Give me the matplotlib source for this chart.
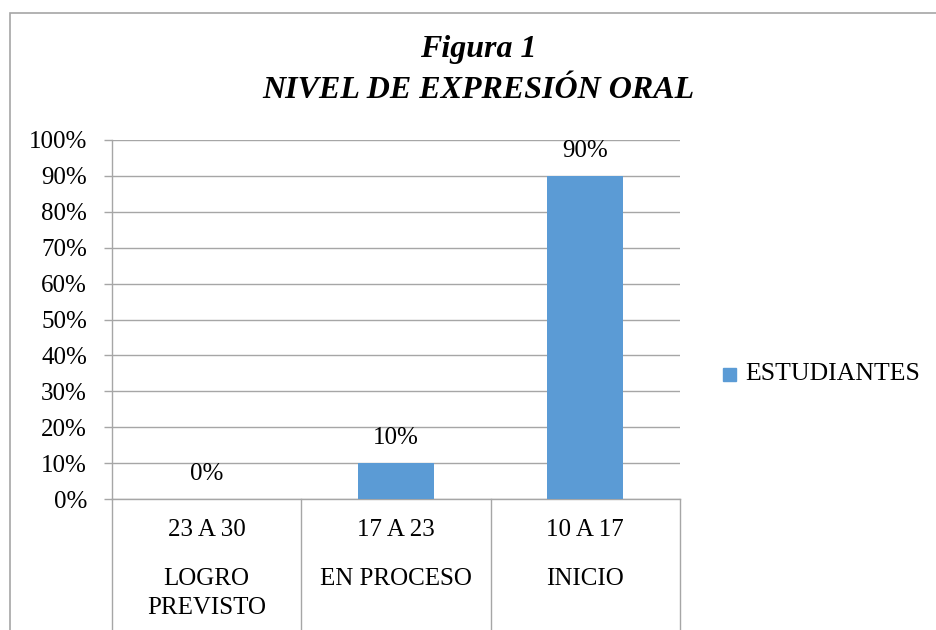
import matplotlib
matplotlib.use("Agg")
import matplotlib.pyplot as plt
from matplotlib.lines import Line2D
from matplotlib.patches import Rectangle
from matplotlib.transforms import blended_transform_factory

# data
ranges = ["23 A 30", "17 A 23", "10 A 17"]
levels = ["LOGRO\nPREVISTO", "EN PROCESO", "INICIO"]
estudiantes = [0, 10, 90]
series_name = "ESTUDIANTES"
y_ticks = list(range(0, 101, 10))

W, H = 936, 630
BAR = "#5B9BD5"
GRID = "#A6A6A6"
FONT = "Liberation Serif"

plt.rcParams["font.family"] = [FONT, "DejaVu Serif"]

fig = plt.figure(figsize=(W / 100, H / 100), dpi=100)

# outer chart frame (only the top and left edges are visible)
fig.patches.append(Rectangle((10 / W, -0.1), 1.2, 1 - 13 / H + 0.1,
                             transform=fig.transFigure, fill=False,
                             edgecolor=GRID, linewidth=1.2))

# plot area in pixels: x 112..680, y 140..499
left, right, top, bottom = 112, 680, 140, 499
ax = fig.add_axes([left / W, (H - bottom) / H, (right - left) / W, (bottom - top) / H])

x = list(range(len(estudiantes)))
ax.bar(x, estudiantes, width=0.4, color=BAR, zorder=3)
ax.set_xlim(-0.5, len(x) - 0.5)
ax.set_ylim(0, 100)

ax.set_yticks(y_ticks)
ax.set_yticklabels([f"{v}%" for v in y_ticks], fontsize=18)
ax.tick_params(axis="y", length=6, color=GRID, width=1, pad=12)
ax.set_xticks([])
ax.yaxis.grid(True, color=GRID, linewidth=1)
ax.set_axisbelow(True)
for side in ["top", "right"]:
    ax.spines[side].set_visible(False)
ax.spines["left"].set_color(GRID)
ax.spines["bottom"].set_color(GRID)
ax.spines["left"].set_linewidth(1)
ax.spines["bottom"].set_linewidth(1)

# data labels above the bars
for xi, v in zip(x, estudiantes):
    ax.annotate(f"{v}%", (xi, v), xytext=(0, 18), textcoords="offset points",
                ha="center", va="center", fontsize=18)

# two-level category axis with separators down to the image edge
tr = blended_transform_factory(ax.transData, fig.transFigure)
for xs in [i - 0.5 for i in range(len(x) + 1)]:
    fig.add_artist(Line2D([xs, xs], [0, (H - bottom) / H], transform=tr,
                          color=GRID, linewidth=1))
for xi, r, lv in zip(x, ranges, levels):
    fig.text(xi, (H - 530) / H, r, transform=tr, ha="center", va="center", fontsize=18)
    fig.text(xi, (H - 568) / H, lv, transform=tr, ha="center", va="top",
             fontsize=18, linespacing=1.4)

# title
fig.text(478 / W, (H - 50) / H, "Figura 1", ha="center", va="center",
         fontsize=23, fontweight="bold", fontstyle="italic")
fig.text(478 / W, (H - 90) / H, "NIVEL DE EXPRESIÓN ORAL", ha="center", va="center",
         fontsize=23, fontweight="bold", fontstyle="italic")

# legend
fig.patches.append(Rectangle((723 / W, (H - 381) / H), 13 / W, 13 / H,
                             transform=fig.transFigure, color=BAR))
fig.text(745 / W, (H - 374) / H, series_name, ha="left", va="center", fontsize=18.5)

fig.savefig("out.png", dpi=100)
